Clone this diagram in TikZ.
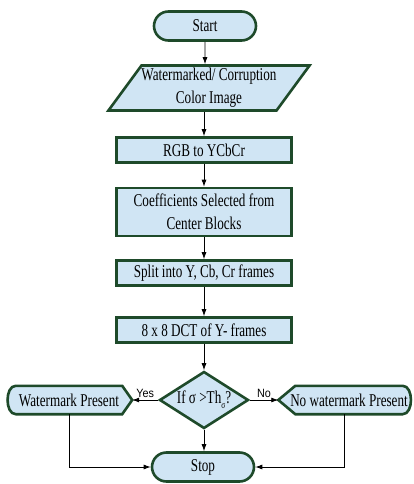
\documentclass[tikz,border=0pt]{standalone}
\usepackage{fontspec}
\setmainfont{Liberation Serif}[FakeStretch=0.73]
\newfontfamily\labelfont{Liberation Sans}[FakeStretch=0.9]
\usetikzlibrary{arrows.meta, shapes.geometric, shapes.misc, calc, backgrounds}

\definecolor{boxfill}{RGB}{208,229,244}
\definecolor{boxline}{RGB}{30,74,42}

\begin{document}
\begin{tikzpicture}[
    x=1pt, y=-1pt, % pixel-like units, y going down
    >={Latex[length=7pt, width=5pt]},
    font=\fontsize{18}{23}\selectfont,
    flowbox/.style={draw=boxline, fill=boxfill, line width=2.6pt, inner sep=0pt, align=center},
    process/.style={flowbox, rectangle, minimum width=175pt, minimum height=25pt},
    terminal/.style={flowbox, rounded rectangle, minimum width=102pt, minimum height=29pt},
    flowline/.style={->, line width=0.8pt, black},
    yesno/.style={font=\labelfont\fontsize{12}{12}\selectfont, inner sep=2pt}
]

    % === FRAME ===
    \useasboundingbox (0,0) rectangle (413,484);

    % === MAIN COLUMN ===
    \def\colX{204}

    \node[terminal] (start) at (205,26) {Start};
    \node[flowbox, trapezium, trapezium left angle=50, trapezium right angle=130,
          trapezium stretches body, minimum width=198pt, minimum height=45pt] (input) at (209,88)
          {Watermarked/ Corruption\\ Color Image};
    \node[process] (rgb)   at (\colX,150) {RGB to YCbCr};
    \node[process, minimum height=48pt] (coeff) at (\colX,212) {Coefficients Selected from\\ Center Blocks};
    \node[process] (split) at (\colX,273) {Split into Y, Cb, Cr frames};
    \node[process] (dct)   at (\colX,330) {8 x 8 DCT of Y- frames};

    % Decision
    \node[flowbox, diamond, aspect=1.55, minimum width=89pt, minimum height=57pt] (dec) at (\colX,400)
          {If σ >Th\raisebox{-5pt}{\fontsize{10}{10}\selectfont σ}?};

    \node[terminal] (stop) at (203,467) {Stop};

    % === OUTCOMES (display shapes) ===
    % Left: rounded on the left, pointed on the right
    \node[inner sep=0pt, inner xsep=-3pt, minimum width=106pt, minimum height=28pt] (wm) at (69,400) {Watermark Present};
    % Right: pointed on the left, rounded on the right
    \node[inner sep=0pt, inner xsep=-7pt, minimum width=107pt, minimum height=28pt] (nowm) at (349,400) {No watermark Present};

    \begin{scope}[on background layer]
        \draw[flowbox] (wm.north west) -- (wm.north east) -- ($(wm.east)+(10,0)$) coordinate (wmtip)
            -- (wm.south east) -- (wm.south west) .. controls +(-11,0) and +(-11,0) .. (wm.north west) -- cycle;
        \draw[flowbox] (nowm.north west) -- (nowm.north east) .. controls +(11,0) and +(11,0) .. (nowm.south east)
            -- (nowm.south west) -- ($(nowm.west)+(-17,0)$) coordinate (nowmtip) -- cycle;
    \end{scope}

    % === CONNECTORS ===
    \draw[flowline] (start) -- (start |- input.north);
    \draw[flowline] (\colX,112) -- (rgb);
    \draw[flowline] (rgb) -- (coeff);
    \draw[flowline] (coeff) -- (split);
    \draw[flowline] (split) -- (dct);
    \draw[flowline] (dct) -- (dec);
    \draw[flowline] (dec) -- (stop.north -| dec);

    \draw[flowline] (dec.west) -- node[yesno, above] {Yes} (wmtip);
    \draw[flowline] (dec.east) -- node[yesno, above] {No} (nowmtip);

    \draw[flowline] (wm.south) |- (stop.west);
    \draw[flowline] ($(nowm.south)+(-5,0)$) |- (stop.east);

\end{tikzpicture}
\end{document}
